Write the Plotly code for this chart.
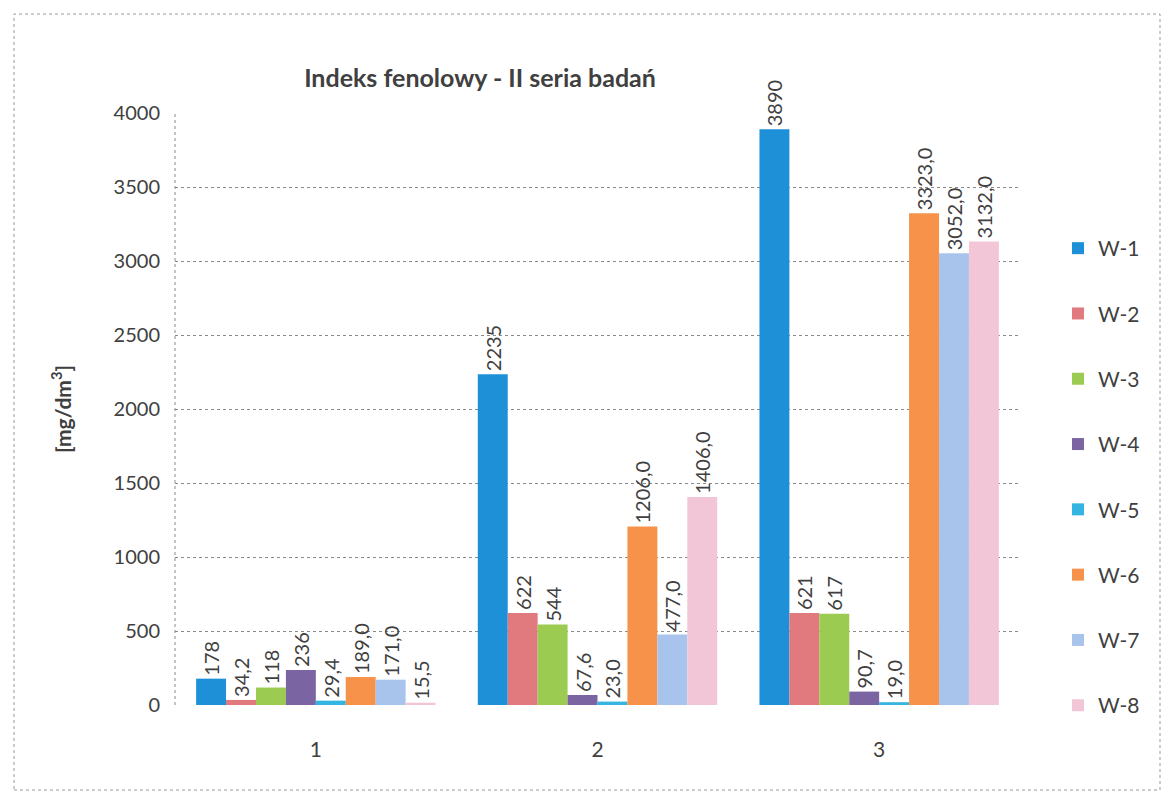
import plotly.graph_objects as go

categories = ["1", "2", "3"]
series_names = ["W-1", "W-2", "W-3", "W-4", "W-5", "W-6", "W-7", "W-8"]
w1 = [178, 2235, 3890]
w2 = [34.2, 622, 621]
w3 = [118, 544, 617]
w4 = [236, 67.6, 90.7]
w5 = [29.4, 23.0, 19.0]
w6 = [189.0, 1206.0, 3323.0]
w7 = [171.0, 477.0, 3052.0]
w8 = [15.5, 1406.0, 3132.0]
labels_w1 = ["178", "2235", "3890"]
labels_w2 = ["34,2", "622", "621"]
labels_w3 = ["118", "544", "617"]
labels_w4 = ["236", "67,6", "90,7"]
labels_w5 = ["29,4", "23,0", "19,0"]
labels_w6 = ["189,0", "1206,0", "3323,0"]
labels_w7 = ["171,0", "477,0", "3052,0"]
labels_w8 = ["15,5", "1406,0", "3132,0"]

values = [w1, w2, w3, w4, w5, w6, w7, w8]
labels = [labels_w1, labels_w2, labels_w3, labels_w4, labels_w5, labels_w6, labels_w7, labels_w8]
colors = ["#1E90D8", "#E07A7E", "#9CCB52", "#7A64A2", "#34B4E0", "#F7924A", "#A9C4EC", "#F2C6D6"]

FONT = "Lato"
TXT = "#404040"

fig = go.Figure()
for i, name in enumerate(series_names):
    fig.add_trace(go.Bar(
        name=name, x=categories, y=values[i], text=labels[i],
        textposition="outside", textangle=-90, cliponaxis=False,
        constraintext="none",
        textfont=dict(family=FONT, size=20, color=TXT),
        marker=dict(color=colors[i], line=dict(width=0)),
        legendgroup=name,
    ))

OFF = 8  # page body margin
W, H = 1171, 808
L, R, T, B = 175 - OFF, 151 + OFF, 113 - OFF, 103 + OFF
pw, ph = W - L - R, H - T - B

def px_x(x):
    return (x - OFF - L) / pw

def px_y(y):
    return (H - B - (y - OFF)) / ph

fig.update_layout(
    width=W, height=H,
    margin=dict(l=L, r=R, t=T, b=B),
    paper_bgcolor="white", plot_bgcolor="white",
    barmode="group", bargap=0.15, bargroupgap=0,
    font=dict(family=FONT, color=TXT),
    title=dict(text="<b>Indeks fenolowy - II seria badań</b>",
               x=(480 - OFF) / W, xanchor="center", y=1 - (78 - OFF) / H, yanchor="middle",
               font=dict(family=FONT, size=25, color=TXT)),
    legend=dict(x=px_x(1058), xanchor="left", y=px_y(228), yanchor="top",
                font=dict(family=FONT, size=21, color=TXT),
                traceorder="grouped", tracegroupgap=35,
                bgcolor="rgba(0,0,0,0)"),
    xaxis=dict(showgrid=False, showline=False, ticks="", ticklabelstandoff=30,
               tickfont=dict(family=FONT, size=21, color=TXT)),
    yaxis=dict(range=[0, 4000], dtick=500, showgrid=True, gridcolor="#8a8a8a",
               griddash="dot", gridwidth=1, zeroline=False, showline=False,
               ticks="", ticklabelstandoff=14,
               tickfont=dict(family=FONT, size=20, color=TXT),
               title=dict(text="<b>[mg/dm<sup>3</sup>]</b>", standoff=36,
                          font=dict(family=FONT, size=21, color=TXT))),
    showlegend=True,
)

# dashed left axis line
fig.add_shape(type="line", xref="paper", yref="paper", x0=0, x1=0, y0=0, y1=1,
              line=dict(color="#8a8a8a", width=1, dash="dot"))
# outer dashed chart border
fig.add_shape(type="rect", xref="paper", yref="paper",
              x0=px_x(14), x1=px_x(1160), y0=px_y(790), y1=px_y(14),
              line=dict(color="#9a9a9a", width=1, dash="dot"))

fig.write_html("out.html")
